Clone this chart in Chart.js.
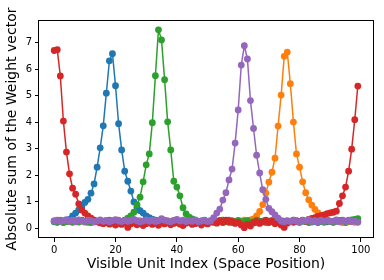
<!DOCTYPE html>
<html>
<head>
<meta charset="utf-8">
<script src="https://cdn.jsdelivr.net/npm/chart.js@4"></script>
<style>
  html, body { margin: 0; padding: 0; background: #fff; }
  canvas { display: block; }
</style>
</head>
<body>
<canvas id="weightChart" width="384" height="280"></canvas>
<script>
// values, one list per hidden unit
const blueSum = [
  0.24, 0.22, 0.27, 0.25, 0.29, 0.33, 0.46, 0.57, 0.69, 0.82,
  0.97, 1.09, 1.32, 1.67, 2.30, 3.03, 3.86, 5.09, 6.31, 6.58,
  5.37, 3.94, 2.95, 2.15, 1.77, 1.40, 0.99, 0.79, 0.66, 0.57,
  0.46, 0.40, 0.34, 0.30, 0.27, 0.24, 0.26, 0.22, 0.25, 0.28,
  0.23, 0.26, 0.21, 0.27, 0.24, 0.29, 0.25, 0.22, 0.26, 0.30,
  0.24, 0.27, 0.21, 0.25, 0.28, 0.23, 0.26, 0.30, 0.24, 0.22,
  0.27, 0.25, 0.21, 0.26, 0.29, 0.24, 0.22, 0.27, 0.25, 0.30,
  0.23, 0.26, 0.28, 0.22, 0.25, 0.27, 0.21, 0.26, 0.29, 0.24,
  0.22, 0.27, 0.25, 0.30, 0.23, 0.26, 0.21, 0.28, 0.25, 0.24,
  0.27, 0.22, 0.26, 0.29, 0.24, 0.21, 0.27, 0.25, 0.30, 0.23
];
const orangeSum = [
  0.28, 0.25, 0.30, 0.22, 0.27, 0.24, 0.29, 0.26, 0.23, 0.28,
  0.25, 0.21, 0.27, 0.30, 0.24, 0.26, 0.22, 0.28, 0.25, 0.23,
  0.27, 0.30, 0.24, 0.21, 0.26, 0.29, 0.23, 0.25, 0.28, 0.22,
  0.26, 0.24, 0.30, 0.27, 0.23, 0.25, 0.21, 0.28, 0.26, 0.24,
  0.29, 0.22, 0.25, 0.27, 0.30, 0.24, 0.21, 0.26, 0.28, 0.23,
  0.25, 0.29, 0.22, 0.27, 0.24, 0.30, 0.26, 0.21, 0.28, 0.25,
  0.23, 0.27, 0.30, 0.28, 0.31, 0.35, 0.46, 0.63, 0.89, 1.32,
  1.74, 2.11, 2.64, 3.85, 5.02, 6.48, 6.64, 5.45, 4.00, 2.80,
  2.30, 1.75, 1.34, 1.07, 0.87, 0.71, 0.58, 0.46, 0.36, 0.30,
  0.26, 0.23, 0.28, 0.25, 0.21, 0.27, 0.24, 0.29, 0.22, 0.26
];
const greenSum = [
  0.26, 0.23, 0.29, 0.21, 0.25, 0.28, 0.22, 0.27, 0.24, 0.30,
  0.23, 0.26, 0.21, 0.28, 0.25, 0.22, 0.27, 0.24, 0.30, 0.26,
  0.22, 0.28, 0.25, 0.30, 0.38, 0.46, 0.60, 0.88, 1.17, 1.75,
  2.39, 2.80, 3.98, 5.75, 7.48, 7.10, 5.60, 4.01, 2.95, 1.77,
  1.55, 1.22, 0.77, 0.54, 0.42, 0.35, 0.29, 0.26, 0.23, 0.27,
  0.21, 0.25, 0.28, 0.22, 0.26, 0.30, 0.24, 0.27, 0.21, 0.25,
  0.29, 0.23, 0.26, 0.28, 0.22, 0.25, 0.30, 0.24, 0.27, 0.21,
  0.26, 0.29, 0.23, 0.25, 0.28, 0.22, 0.27, 0.24, 0.30, 0.26,
  0.23, 0.28, 0.25, 0.21, 0.27, 0.30, 0.24, 0.26, 0.22, 0.29,
  0.25, 0.23, 0.28, 0.26, 0.30, 0.24, 0.27, 0.31, 0.33, 0.36
];
const redSum = [
  6.70, 6.73, 5.74, 4.04, 2.87, 2.05, 1.51, 1.28, 0.92, 0.69,
  0.57, 0.46, 0.38, 0.30, 0.24, 0.20, 0.17, 0.22, 0.15, 0.19,
  0.12, 0.18, 0.14, 0.20, 0.03, 0.16, 0.21, 0.13, 0.18, 0.10,
  0.17, 0.22, 0.14, 0.19, 0.11, 0.20, 0.16, 0.23, 0.13, 0.18,
  0.21, 0.15, 0.10, 0.19, 0.24, 0.14, 0.17, 0.22, 0.12, 0.20,
  0.16, 0.23, 0.26, 0.19, 0.28, 0.21, 0.30, 0.24, 0.27, 0.18,
  0.22, 0.12, 0.02, 0.15, 0.08, 0.20, 0.26, 0.18, 0.24, 0.29,
  0.21, 0.27, 0.17, 0.23, 0.12, 0.03, 0.19, 0.25, 0.22, 0.28,
  0.24, 0.30, 0.26, 0.33, 0.37, 0.40, 0.44, 0.47, 0.50, 0.55,
  0.58, 0.60, 0.64, 0.93, 1.22, 1.55, 2.15, 2.98, 4.09, 5.36
];
const purpleSum = [
  0.27, 0.30, 0.25, 0.28, 0.32, 0.26, 0.29, 0.24, 0.31, 0.27,
  0.25, 0.30, 0.28, 0.23, 0.27, 0.31, 0.26, 0.29, 0.24, 0.28,
  0.32, 0.27, 0.25, 0.30, 0.26, 0.29, 0.33, 0.28, 0.24, 0.27,
  0.31, 0.26, 0.29, 0.25, 0.28, 0.36, 0.30, 0.27, 0.24, 0.29,
  0.33, 0.27, 0.30, 0.25, 0.28, 0.26, 0.31, 0.24, 0.27, 0.29,
  0.25, 0.27, 0.40, 0.57, 0.72, 1.06, 1.34, 1.82, 2.23, 3.21,
  4.46, 6.15, 6.88, 6.38, 4.81, 3.76, 2.75, 2.08, 1.45, 1.09,
  0.75, 0.62, 0.50, 0.38, 0.27, 0.24, 0.28, 0.25, 0.30, 0.26,
  0.23, 0.29, 0.27, 0.32, 0.25, 0.28, 0.24, 0.30, 0.26, 0.29,
  0.25, 0.27, 0.31, 0.24, 0.28, 0.26, 0.30, 0.25, 0.27, 0.23
];
const unitIndex = blueSum.map((_, i) => i);
const xTicks = [0, 20, 40, 60, 80, 100];
const yTicks = [0, 1, 2, 3, 4, 5, 6, 7];

const seriesList = [
  { values: blueSum, color: '#1f77b4' },
  { values: orangeSum, color: '#ff7f0e' },
  { values: greenSum, color: '#2ca02c' },
  { values: redSum, color: '#d62728' },
  { values: purpleSum, color: '#9467bd' }
];

// matplotlib style closed frame round the plot area
const frameBox = {
  id: 'frameBox',
  afterDraw(chart) {
    const a = chart.chartArea;
    const c = chart.ctx;
    c.save();
    c.strokeStyle = '#000';
    c.lineWidth = 1;
    c.strokeRect(Math.round(a.left) - 0.5, Math.round(a.top) + 0.5,
      Math.round(a.right - a.left) + 1, Math.round(a.bottom - a.top) - 1);
    c.restore();
  }
};

const font = { family: 'DejaVu Sans', size: 10 };

const ctx = document.getElementById('weightChart');

new Chart(ctx, {
  type: 'line',
  data: {
    datasets: seriesList.map((s, k) => ({
      data: s.values.map((v, i) => ({ x: unitIndex[i], y: v })),
      borderColor: s.color,
      backgroundColor: s.color,
      borderWidth: 1.5,
      pointRadius: 3.4,
      pointBorderWidth: 0,
      pointBackgroundColor: s.color,
      tension: 0,
      order: seriesList.length - k
    }))
  },
  options: {
    responsive: false,
    animation: false,
    devicePixelRatio: 1,
    layout: { padding: { top: 20, right: 11, left: 0, bottom: 0 } },
    plugins: {
      legend: { display: false },
      tooltip: { enabled: false }
    },
    scales: {
      x: {
        type: 'linear',
        min: -4.95,
        max: 103.95,
        afterFit(scale) { scale.height = 42; },
        afterBuildTicks(scale) { scale.ticks = xTicks.map(v => ({ value: v })); },
        grid: { drawOnChartArea: false, drawTicks: true, tickLength: 4, color: '#000' },
        border: { display: false },
        ticks: { font: font, color: '#000', padding: 2, maxRotation: 0 },
        title: {
          display: true,
          text: 'Visible Unit Index (Space Position)',
          font: { family: 'DejaVu Sans', size: 14 },
          color: '#000',
          padding: { top: 0, bottom: 7 }
        }
      },
      y: {
        min: -0.37,
        max: 7.85,
        afterFit(scale) { scale.width = 39; },
        afterBuildTicks(scale) { scale.ticks = yTicks.map(v => ({ value: v })); },
        grid: { drawOnChartArea: false, drawTicks: true, tickLength: 4, color: '#000' },
        border: { display: false },
        ticks: { font: font, color: '#000', padding: 3 },
        title: {
          display: true,
          text: 'Absolute sum of the Weight vector',
          font: { family: 'DejaVu Sans', size: 14 },
          color: '#000',
          padding: { top: 4, bottom: 4 }
        }
      }
    }
  },
  plugins: [frameBox]
});
</script>
</body>
</html>
